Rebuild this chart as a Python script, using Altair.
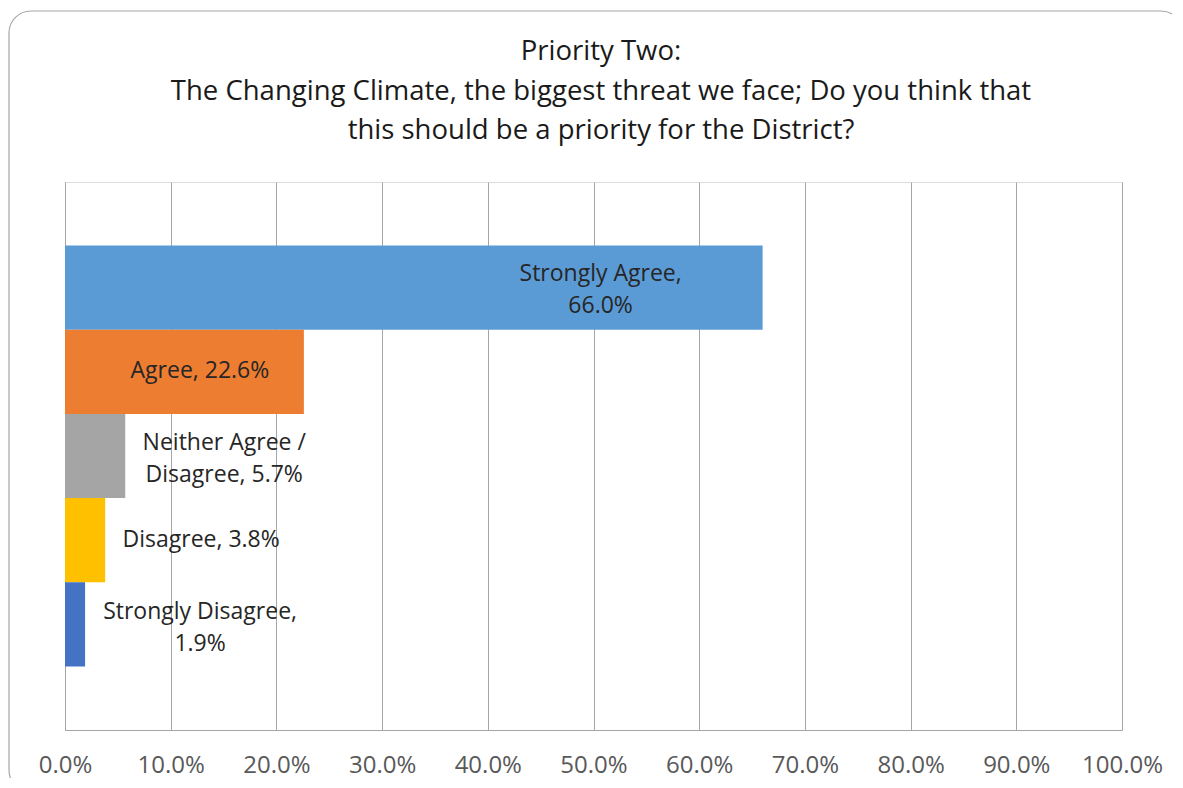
import altair as alt
import pandas as pd

categories = ["Strongly Agree", "Agree", "Neither Agree / Disagree", "Disagree", "Strongly Disagree"]
values = [66.0, 22.6, 5.7, 3.8, 1.9]
label_texts = ["Strongly Agree,\n66.0%", "Agree, 22.6%", "Neither Agree /\nDisagree, 5.7%",
               "Disagree, 3.8%", "Strongly Disagree,\n1.9%"]
colors = ["#5B9BD5", "#ED7D31", "#A5A5A5", "#FFC000", "#4472C4"]
tick_values = [0, 10, 20, 30, 40, 50, 60, 70, 80, 90, 100]

title_lines = ["Priority Two:",
               "The Changing Climate, the biggest threat we face; Do you think that",
               "this should be a priority for the District?"]

# pixel offsets of each data label relative to bar end / band centre (style only)
label_dx = {"Strongly Agree": -162, "Agree": -104, "Neither Agree / Disagree": 99,
            "Disagree": 96, "Strongly Disagree": 115}
label_dy = {"Strongly Agree": -14, "Agree": -1, "Neither Agree / Disagree": -13,
            "Disagree": 0, "Strongly Disagree": -12}

df = pd.DataFrame({"category": categories, "value": values, "label": label_texts})

FONT = "Open Sans"
W, H = 1057, 548

x_enc = alt.X("value:Q",
              scale=alt.Scale(domain=[0, 100], nice=False, zero=True),
              axis=alt.Axis(values=tick_values, labelExpr="format(datum.value, '.1f') + '%'",
                            grid=True, gridColor="#A6A6A6", gridWidth=1,
                            domainColor="#A6A6A6", domainWidth=1, ticks=False,
                            labelFont=FONT, labelFontSize=24, labelColor="#595959",
                            labelFlush=False, labelPadding=23, title=None))
y_enc = alt.Y("category:N", sort=categories,
              scale=alt.Scale(paddingInner=0, paddingOuter=0.755),
              axis=alt.Axis(labels=False, ticks=False, title=None, grid=False,
                            domainColor="#A6A6A6", domainWidth=1))

bars = alt.Chart(df).mark_bar().encode(
    x=x_enc,
    y=y_enc,
    color=alt.Color("category:N", scale=alt.Scale(domain=categories, range=colors), legend=None),
)

border = alt.Chart(pd.DataFrame({"a": [0]})).mark_rect(
    fillOpacity=0, stroke="#A6A6A6", strokeWidth=1.2, cornerRadius=22
).encode(x=alt.value(-56), x2=alt.value(1118), y=alt.value(-171), y2=alt.value(610))

title_mark = alt.Chart(pd.DataFrame({"t": ["\n".join(title_lines)]})).mark_text(
    align="center", baseline="middle", lineBreak="\n", lineHeight=39.5,
    font=FONT, fontSize=27.5, color="#1a1a1a"
).encode(x=alt.value(536), y=alt.value(-130), text="t:N")

text_layers = []
for cat in categories:
    t = alt.Chart(df).transform_filter(alt.datum.category == cat).mark_text(
        align="center", baseline="middle", lineBreak="\n", lineHeight=32,
        font=FONT, fontSize=23, color="#262626", dx=label_dx[cat], dy=label_dy[cat]
    ).encode(
        x=alt.X("value:Q"),
        y=alt.Y("category:N", sort=categories),
        text="label:N",
    )
    text_layers.append(t)

chart = alt.layer(border, title_mark, bars, *text_layers).properties(
    width=W, height=H,
    autosize=alt.AutoSizeParams(type="none"),
    padding={"left": 57, "top": 174, "right": 50, "bottom": 48},
).configure_view(stroke=None).configure(background="white")

chart.save("out.html", embed_options={"renderer": "svg", "actions": False})
